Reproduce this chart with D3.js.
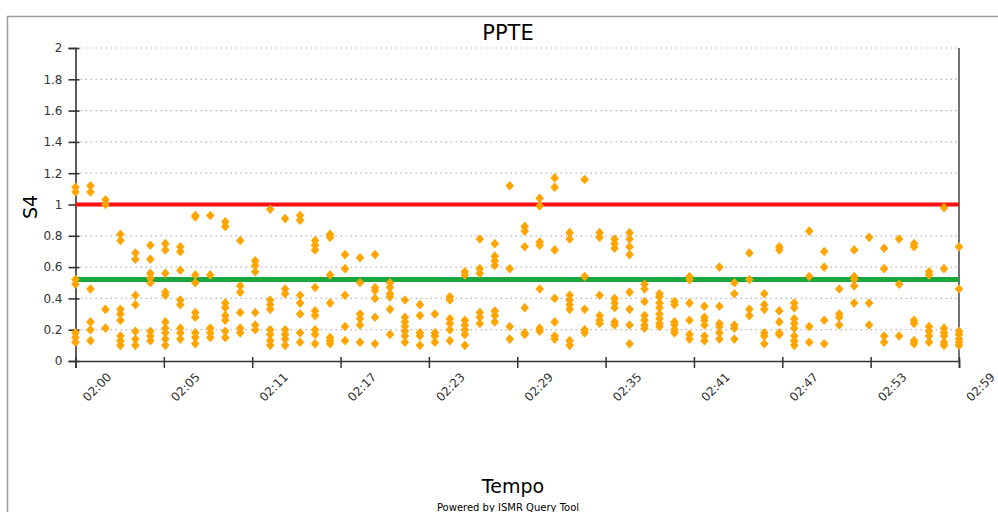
<!DOCTYPE html>
<html>
<head>
<meta charset="utf-8">
<script src="https://cdn.jsdelivr.net/npm/d3@7"></script>
<style>
  body { margin: 0; background: #fff; }
  #chart { width: 998px; height: 512px; overflow: hidden; }
  text { font-family: "DejaVu Sans", sans-serif; }
</style>
</head>
<body>
<div id="chart"></div>
<script>
// one entry per minute, 02:00 .. 02:59
var times = ["02:00","02:01","02:02","02:03","02:04","02:05","02:06","02:07","02:08","02:09",
  "02:10","02:11","02:12","02:13","02:14","02:15","02:16","02:17","02:18","02:19",
  "02:20","02:21","02:22","02:23","02:24","02:25","02:26","02:27","02:28","02:29",
  "02:30","02:31","02:32","02:33","02:34","02:35","02:36","02:37","02:38","02:39",
  "02:40","02:41","02:42","02:43","02:44","02:45","02:46","02:47","02:48","02:49",
  "02:50","02:51","02:52","02:53","02:54","02:55","02:56","02:57","02:58","02:59"];

// S4 of every satellite seen in that minute
var s4 = [
  [1.11,1.08,0.52,0.49,0.18,0.15,0.12],
  [1.12,1.08,0.46,0.25,0.2,0.13],
  [1.03,1.0,0.33,0.21],
  [0.81,0.77,0.33,0.3,0.26,0.16,0.13,0.1],
  [0.69,0.65,0.42,0.36,0.19,0.14,0.1],
  [0.74,0.65,0.56,0.53,0.5,0.19,0.16,0.13],
  [0.75,0.71,0.56,0.44,0.42,0.25,0.21,0.18,0.14,0.1],
  [0.73,0.7,0.58,0.39,0.36,0.21,0.18,0.14],
  [0.93,0.92,0.55,0.5,0.31,0.28,0.18,0.15,0.11],
  [0.93,0.55,0.21,0.18,0.15],
  [0.89,0.86,0.37,0.34,0.29,0.26,0.19,0.15],
  [0.77,0.48,0.44,0.31,0.21,0.18],
  [0.64,0.61,0.57,0.31,0.23,0.2],
  [0.97,0.39,0.36,0.33,0.2,0.17,0.13,0.1],
  [0.91,0.46,0.43,0.2,0.17,0.14,0.1],
  [0.93,0.9,0.42,0.37,0.3,0.18,0.12],
  [0.77,0.74,0.71,0.47,0.32,0.29,0.2,0.17,0.11],
  [0.81,0.79,0.55,0.37,0.15,0.13,0.11],
  [0.68,0.59,0.42,0.22,0.13],
  [0.66,0.5,0.3,0.27,0.23,0.12],
  [0.68,0.47,0.45,0.4,0.28,0.11],
  [0.5,0.47,0.43,0.41,0.33,0.17],
  [0.39,0.28,0.25,0.22,0.19,0.16,0.12],
  [0.36,0.29,0.18,0.16,0.1],
  [0.3,0.18,0.16,0.12],
  [0.41,0.39,0.27,0.24,0.2,0.13],
  [0.57,0.55,0.26,0.23,0.2,0.17,0.1],
  [0.78,0.59,0.56,0.31,0.28,0.24],
  [0.75,0.67,0.64,0.61,0.32,0.29,0.25],
  [1.12,0.59,0.22,0.14],
  [0.86,0.83,0.73,0.34,0.18,0.17],
  [1.04,0.99,0.76,0.74,0.46,0.21,0.19],
  [1.17,1.11,0.71,0.4,0.25,0.16,0.14],
  [0.82,0.78,0.42,0.39,0.36,0.33,0.13,0.1],
  [1.16,0.54,0.33,0.2,0.18],
  [0.82,0.79,0.42,0.29,0.26,0.24],
  [0.78,0.75,0.72,0.4,0.37,0.34,0.25,0.23],
  [0.82,0.78,0.73,0.68,0.44,0.33,0.23,0.11],
  [0.49,0.46,0.38,0.29,0.26,0.23,0.21],
  [0.43,0.41,0.37,0.34,0.3,0.27,0.24,0.22],
  [0.38,0.36,0.25,0.23,0.2,0.18],
  [0.54,0.52,0.37,0.26,0.17,0.14],
  [0.35,0.28,0.26,0.23,0.16,0.13],
  [0.6,0.35,0.24,0.22,0.18,0.14],
  [0.5,0.43,0.23,0.21,0.14],
  [0.69,0.52,0.33,0.29],
  [0.43,0.36,0.33,0.18,0.16,0.11],
  [0.73,0.71,0.32,0.25,0.18,0.17],
  [0.37,0.34,0.27,0.24,0.21,0.16,0.13,0.1],
  [0.83,0.54,0.22,0.12],
  [0.7,0.6,0.26,0.11],
  [0.46,0.3,0.28,0.23],
  [0.71,0.54,0.52,0.48,0.37],
  [0.79,0.37,0.23],
  [0.72,0.59,0.16,0.12],
  [0.78,0.49,0.16],
  [0.75,0.73,0.26,0.24,0.13,0.11],
  [0.57,0.55,0.22,0.19,0.16,0.12],
  [0.98,0.59,0.21,0.18,0.16,0.12,0.1],
  [0.73,0.46,0.19,0.17,0.14,0.12,0.1]
];

var xTickLabels = ["02:00","02:05","02:11","02:17","02:23","02:29","02:35","02:41","02:47","02:53","02:59"];
var yTicks = [0,0.2,0.4,0.6,0.8,1,1.2,1.4,1.6,1.8,2];
var thresholds = [1.0, 0.52];
var thresholdColors = ["#ff1010", "#1aa83e"];

(function() {
  var WIDTH = 998, HEIGHT = 512;
  var left = 75.5, right = 959, top = 48, bottom = 361;

  var svg = d3.select('#chart').append('svg')
    .attr('width', WIDTH)
    .attr('height', HEIGHT);

  // outer frame
  svg.append('path')
    .attr('d', 'M7.5,' + HEIGHT + 'V16.5H' + WIDTH)
    .attr('fill', 'none')
    .attr('stroke', '#9a9a9a')
    .attr('stroke-width', 1.5);

  var x = d3.scaleLinear().domain([0, times.length - 1]).range([left, right]);
  var y = d3.scaleLinear().domain([0, 2]).range([bottom, top]);
  var xTickPos = d3.scaleLinear().domain([0, xTickLabels.length - 1]).range([0, times.length - 1]);

  // dotted grid
  svg.append('g').selectAll('line')
    .data(yTicks.slice(1))
    .enter().append('line')
    .attr('x1', left).attr('x2', right)
    .attr('y1', function(d) { return y(d); })
    .attr('y2', function(d) { return y(d); })
    .attr('stroke', '#b4b4c0')
    .attr('stroke-width', 1.2)
    .attr('stroke-dasharray', '1.5,3.5');

  // y axis
  var yAxis = svg.append('g')
    .attr('transform', 'translate(' + left + ',0)')
    .call(d3.axisLeft(y).tickValues(yTicks).tickSize(7).tickPadding(6)
      .tickFormat(function(d) { return String(+d.toFixed(1)); }));
  yAxis.select('.domain').attr('stroke', '#333').attr('stroke-width', 1.6);
  yAxis.selectAll('.tick line').attr('stroke', '#333').attr('stroke-width', 1.6)
    .attr('x2', -7).attr('x1', 4);
  yAxis.selectAll('.tick text').attr('fill', '#333').style('font-size', '12px');

  // right edge
  svg.append('line')
    .attr('x1', right).attr('x2', right)
    .attr('y1', top).attr('y2', bottom)
    .attr('stroke', '#444').attr('stroke-width', 1.5);

  // x axis
  var xAxis = svg.append('g')
    .attr('transform', 'translate(0,' + bottom + ')')
    .call(d3.axisBottom(x)
      .tickValues(xTickLabels.map(function(d, i) { return xTickPos(i); }))
      .tickSize(7)
      .tickFormat(function(d, i) { return xTickLabels[i]; }));
  xAxis.select('.domain').attr('stroke', '#333').attr('stroke-width', 1.6);
  xAxis.selectAll('.tick line').attr('stroke', '#333').attr('stroke-width', 1.5)
    .attr('y1', -4);
  xAxis.selectAll('.tick text')
    .attr('fill', '#333')
    .style('font-size', '12px')
    .attr('text-anchor', 'middle')
    .attr('dy', null)
    .attr('y', null)
    .attr('transform', 'translate(24,29) rotate(-45)');

  // threshold lines
  svg.append('g').selectAll('line')
    .data(thresholds)
    .enter().append('line')
    .attr('x1', left).attr('x2', right)
    .attr('y1', function(d) { return y(d); })
    .attr('y2', function(d) { return y(d); })
    .attr('stroke', function(d, i) { return thresholdColors[i]; })
    .attr('stroke-width', function(d, i) { return i ? 5 : 4; });

  // points
  var points = [];
  s4.forEach(function(vals, i) {
    vals.forEach(function(v) { points.push([i, v]); });
  });
  svg.append('g').selectAll('path')
    .data(points)
    .enter().append('path')
    .attr('transform', function(d) { return 'translate(' + x(d[0]) + ',' + y(d[1]) + ')'; })
    .attr('d', 'M0,-4.8L4.3,0L0,4.8L-4.3,0Z')
    .attr('fill', '#ffa500');

  // texts
  svg.append('text')
    .attr('x', 508).attr('y', 40)
    .attr('text-anchor', 'middle')
    .style('font-size', '21px')
    .text('PPTE');

  svg.append('text')
    .attr('transform', 'translate(37,207) rotate(-90)')
    .attr('text-anchor', 'middle')
    .style('font-size', '19px')
    .text('S4');

  svg.append('text')
    .attr('x', 513).attr('y', 493)
    .attr('text-anchor', 'middle')
    .style('font-size', '19px')
    .text('Tempo');

  svg.append('text')
    .attr('x', 508).attr('y', 511)
    .attr('text-anchor', 'middle')
    .style('font-size', '10px')
    .text('Powered by ISMR Query Tool');
})();
</script>
</body>
</html>
